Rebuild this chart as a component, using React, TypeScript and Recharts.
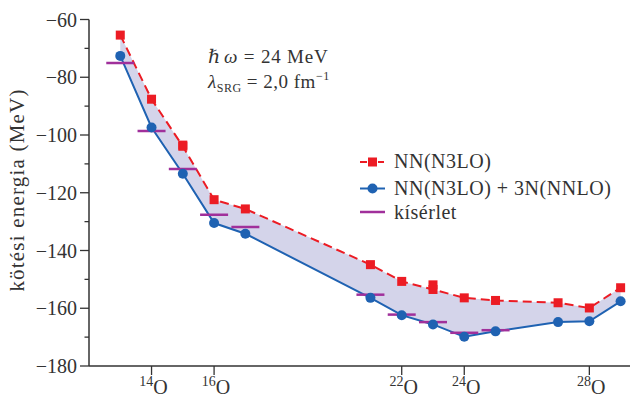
import { Area, ComposedChart, Line, Scatter, XAxis, YAxis } from 'recharts';

// mass number A of the oxygen isotopes
const MASS = [13, 14, 15, 16, 17, 21, 22, 23, 24, 25, 27, 28, 29];
// NN(N3LO)
const NN_N3LO = [-65.4, -87.6, -103.9, -122.4, -125.6, -144.9, -150.7, -153.5, -156.4, -157.3, -158.1, -159.9, -152.9];
// NN(N3LO) + 3N(NNLO)
const NN_3N = [-72.6, -97.4, -113.4, -130.5, -134.2, -156.4, -162.4, -165.6, -169.9, -168.0, -164.8, -164.5, -157.6];
// second NN(N3LO) square drawn at A = 15 and 23
const EXTRA_MASS = [15, 23];
const EXTRA_NN = [-103.5, -151.9];
// kísérlet
const EXP_MASS = [13, 14, 15, 16, 17, 21, 22, 23, 24, 25];
const EXP_VALUES = [-75.1, -98.6, -111.8, -127.6, -131.9, -155.3, -162.2, -164.8, -168.5, -167.6];

const X_TICKS = [14, 16, 22, 24, 28];
const Y_TICKS = [
  -180, -175, -170, -165, -160, -155, -150, -145, -140, -135, -130, -125, -120,
  -115, -110, -105, -100, -95, -90, -85, -80, -75, -70, -65, -60,
];
const Y_LABELS = [-180, -160, -140, -120, -100, -80, -60];

const RED = '#ec1c24';
const BLUE = '#1f62b2';
const MAGENTA = '#a0309b';
const BAND = '#d4d4ea';
const INK = '#333333';
const FONT = '"Liberation Serif", "DejaVu Serif", serif';

const rows = MASS.map((a, i) => ({
  a,
  nn: NN_N3LO[i],
  nn3n: NN_3N[i],
  band: [NN_3N[i], NN_N3LO[i]],
}));
const extraRows = EXTRA_MASS.map((a, i) => ({ a, extra: EXTRA_NN[i] }));
const expRows = EXP_MASS.map((a, i) => ({ a, exp: EXP_VALUES[i] }));

function YTick({ x, y, payload }: any) {
  const v = payload.value as number;
  const major = Y_LABELS.includes(v);
  return (
    <g>
      <line x1={x - (major ? 9 : 4.5)} x2={x} y1={y} y2={y} stroke={INK} strokeWidth={1.3} />
      {major && (
        <text x={x - 12} y={y + 7} textAnchor="end" fontFamily={FONT} fontSize={20} fill={INK}>
          {`\u2212${Math.abs(v)}`}
        </text>
      )}
    </g>
  );
}

function XTick({ x, y, payload }: any) {
  return (
    <g>
      <line x1={x} x2={x} y1={y} y2={y + 9} stroke={INK} strokeWidth={1.3} />
      <text x={x + 2} y={y + 28} textAnchor="middle" fontFamily={FONT} fill={INK}>
        <tspan fontSize={14} dy={-8}>{payload.value}</tspan>
        <tspan fontSize={20} dy={8}>O</tspan>
      </text>
    </g>
  );
}

const square = (p: any) =>
  p.cx == null ? <g key={p.index} /> : (
    <rect key={p.index} x={p.cx - 4.5} y={p.cy - 4.5} width={9} height={9} fill={RED} />
  );

const circle = (p: any) =>
  p.cx == null ? <g key={p.index} /> : <circle key={p.index} cx={p.cx} cy={p.cy} r={5} fill={BLUE} />;

const expBar = (p: any) => (
  <line x1={p.cx - 14} x2={p.cx + 14} y1={p.cy} y2={p.cy} stroke={MAGENTA} strokeWidth={2.5} />
);

function Overlay() {
  return (
    <svg
      width={630}
      height={400}
      style={{ position: 'absolute', left: 0, top: 0, pointerEvents: 'none' }}
      fontFamily={FONT}
      fill={INK}
    >
      <text transform="translate(24,190) rotate(-90)" textAnchor="middle" fontSize={21} letterSpacing={1.2}>
        kötési energia (MeV)
      </text>

      <text x={208} y={63} fontSize={19} letterSpacing={0.8}>
        <tspan fontStyle="italic">ℏ</tspan>
        <tspan fontStyle="italic" dx={3}>ω</tspan>
        <tspan> = 24 MeV</tspan>
      </text>
      <text x={208} y={88} fontSize={19} letterSpacing={0.5}>
        <tspan fontStyle="italic">λ</tspan>
        <tspan fontSize={12} dy={4}>SRG</tspan>
        <tspan dy={-4}> = 2,0 fm</tspan>
        <tspan fontSize={12} dy={-8}>−1</tspan>
      </text>

      <line x1={360} x2={367} y1={162} y2={162} stroke={RED} strokeWidth={2} />
      <rect x={368} y={157.5} width={9} height={9} fill={RED} />
      <line x1={378} x2={384} y1={162} y2={162} stroke={RED} strokeWidth={2} />
      <text x={394} y={168} fontSize={20} letterSpacing={0.5}>NN(N3LO)</text>

      <line x1={360} x2={385} y1={188.5} y2={188.5} stroke={BLUE} strokeWidth={2} />
      <circle cx={372.5} cy={188.5} r={5} fill={BLUE} />
      <text x={394} y={195} fontSize={20} letterSpacing={0.5}>NN(N3LO) + 3N(NNLO)</text>

      <line x1={360} x2={385} y1={212} y2={212} stroke={MAGENTA} strokeWidth={2.5} />
      <text x={394} y={219} fontSize={20} letterSpacing={0.5}>kísérlet</text>
    </svg>
  );
}

export default function App() {
  return (
    <div style={{ position: 'absolute', left: 0, top: 0, width: 630, height: 400, background: '#fff' }}>
      <ComposedChart width={630} height={400} data={rows} margin={{ top: 19.5, right: 0, bottom: 0, left: 0 }}>
        <XAxis
          dataKey="a"
          type="number"
          domain={[12, 29.3]}
          ticks={X_TICKS}
          allowDataOverflow
          height={34}
          tickSize={0}
          tickMargin={0}
          tick={<XTick />}
          axisLine={{ stroke: INK, strokeWidth: 1.5 }}
        />
        <YAxis
          type="number"
          domain={[-180, -60]}
          ticks={Y_TICKS}
          allowDataOverflow
          width={89}
          tickSize={0}
          tickMargin={0}
          tick={<YTick />}
          axisLine={{ stroke: INK, strokeWidth: 1.5 }}
        />
        <Area
          dataKey="band"
          type="linear"
          fill={BAND}
          fillOpacity={1}
          stroke="none"
          dot={false}
          activeDot={false}
          isAnimationActive={false}
        />
        <Scatter data={expRows} dataKey="exp" shape={expBar} isAnimationActive={false} />
        <Line
          dataKey="nn3n"
          type="linear"
          stroke={BLUE}
          strokeWidth={2}
          dot={circle}
          activeDot={false}
          isAnimationActive={false}
        />
        <Line
          dataKey="nn"
          type="linear"
          stroke={RED}
          strokeWidth={2}
          strokeDasharray="9 5"
          dot={square}
          activeDot={false}
          isAnimationActive={false}
        />
        <Scatter data={extraRows} dataKey="extra" shape={square} isAnimationActive={false} />
      </ComposedChart>
      <Overlay />
    </div>
  );
}
